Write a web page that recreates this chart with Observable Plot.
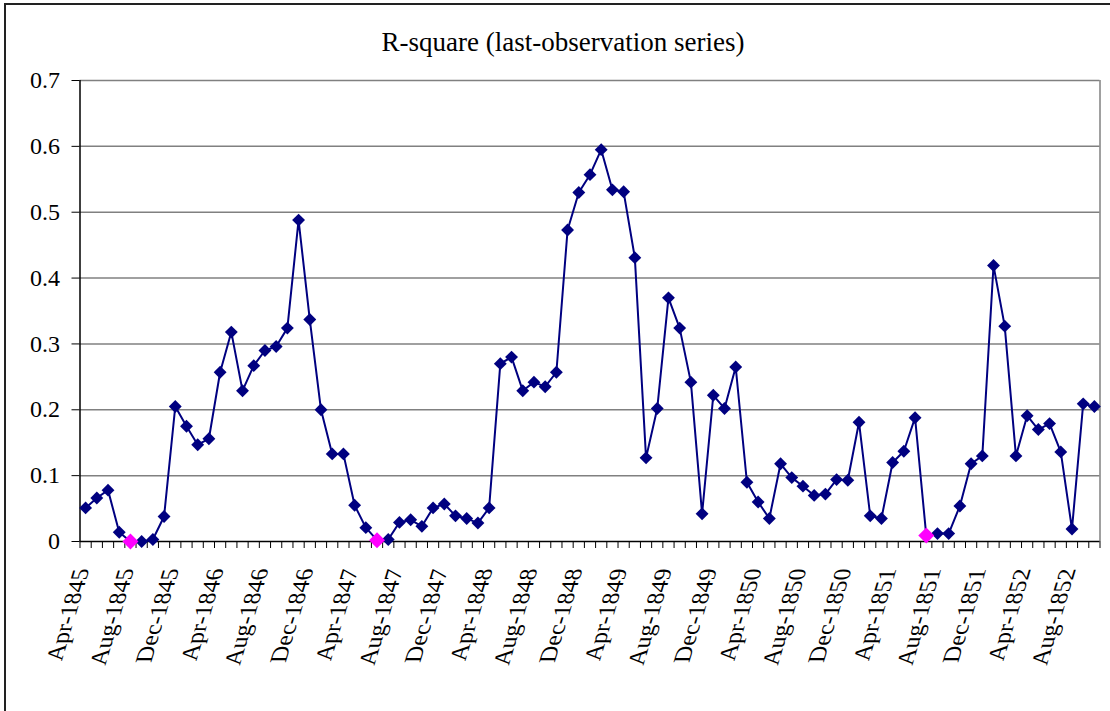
<!DOCTYPE html>
<html><head><meta charset="utf-8">
<script src="https://cdn.jsdelivr.net/npm/d3@7"></script>
<script src="https://cdn.jsdelivr.net/npm/@observablehq/plot@0.6"></script>
<style>
html,body{margin:0;padding:0;background:#fff;}
#wrap{position:relative;width:1110px;height:711px;overflow:hidden;background:#fff;}
#border{position:absolute;left:4px;top:3px;width:1130px;height:740px;border:2px solid #222;pointer-events:none;}
#wrap svg text{font-family:'Liberation Serif','Times New Roman',serif !important;}
</style></head><body><div id="wrap"><div id="border"></div></div>
<script>
const title = "R-square (last-observation series)";
const monthNames = ["Jan","Feb","Mar","Apr","May","Jun","Jul","Aug","Sep","Oct","Nov","Dec"];
const firstYear = 1845, firstMonthIndex = 3; // Apr-1845
const values = [
  0.051, 0.066, 0.078, 0.014, 0.000, 0.000, 0.003, 0.038, 0.205, 0.175,
  0.147, 0.156, 0.257, 0.318, 0.229, 0.267, 0.290, 0.296, 0.324, 0.488,
  0.337, 0.200, 0.133, 0.133, 0.055, 0.021, 0.002, 0.003, 0.029, 0.033,
  0.023, 0.051, 0.057, 0.039, 0.035, 0.028, 0.051, 0.270, 0.280, 0.229,
  0.242, 0.235, 0.257, 0.473, 0.530, 0.557, 0.595, 0.534, 0.531, 0.431,
  0.127, 0.202, 0.370, 0.324, 0.242, 0.042, 0.222, 0.202, 0.265, 0.090,
  0.060, 0.035, 0.118, 0.097, 0.084, 0.070, 0.072, 0.094, 0.093, 0.181,
  0.039, 0.035, 0.120, 0.137, 0.188, 0.009, 0.012, 0.012, 0.054, 0.118,
  0.130, 0.419, 0.327, 0.130, 0.191, 0.170, 0.179, 0.136, 0.019, 0.209,
  0.205
];
const highlightIdx = [4, 26, 75];
const yTicks = [0, 0.1, 0.2, 0.3, 0.4, 0.5, 0.6, 0.7];
const yTickLabels = ["0", "0.1", "0.2", "0.3", "0.4", "0.5", "0.6", "0.7"];
const xTickLabels = ["Apr-1845","Aug-1845","Dec-1845","Apr-1846","Aug-1846","Dec-1846","Apr-1847","Aug-1847","Dec-1847","Apr-1848","Aug-1848","Dec-1848","Apr-1849","Aug-1849","Dec-1849","Apr-1850","Aug-1850","Dec-1850","Apr-1851","Aug-1851","Dec-1851","Apr-1852","Aug-1852"];
const xLabelEvery = 4;

const monthLabel = i => {
  const m = firstMonthIndex + i;
  return monthNames[m % 12] + "-" + (firstYear + Math.floor(m / 12));
};
const data = values.map((v, i) => ({i, v, month: monthLabel(i)}));
const highlighted = data.filter(d => highlightIdx.includes(d.i));
const xLabelData = xTickLabels.map((t, j) => ({i: j * xLabelEvery, t}));
const bounds = d3.range(values.length + 1).map(k => k - 0.5);

const chart = Plot.plot({
  width: 1110, height: 711,
  marginLeft: 79.5, marginRight: 10.5, marginTop: 80, marginBottom: 170,
  style: {fontFamily: "'Liberation Serif', 'Times New Roman', serif", fontSize: "24px", background: "transparent", color: "#000", overflow: "visible"},
  x: {domain: [-0.5, values.length - 0.5], axis: null},
  y: {domain: [0, 0.7], ticks: yTicks, tickSize: 8, tickPadding: 12, tickFormat: d => yTickLabels[yTicks.indexOf(d)], label: null},
  marks: [
    Plot.ruleY(yTicks.slice(1), {stroke: "#808080", strokeWidth: 1.5}),
    Plot.ruleX([values.length - 0.5], {x: d => d, y1: 0, y2: 0.7, stroke: "#808080", strokeWidth: 1.5}),
    Plot.ruleX([-0.5], {x: d => d, y1: 0, y2: 0.7, stroke: "#000", strokeWidth: 1.5}),
    Plot.ruleY([0], {stroke: "#000", strokeWidth: 1.5}),
    Plot.ruleX(bounds, {x: d => d, y1: 0, y2: 0, insetBottom: -7, stroke: "#000", strokeWidth: 1}),
    Plot.line(data, {x: "i", y: "v", stroke: "#000080", strokeWidth: 2}),
    Plot.dot(data, {x: "i", y: "v", symbol: "diamond2", r: 5.8, fill: "#000080", stroke: "none"}),
    Plot.dot(highlighted, {x: "i", y: "v", symbol: "diamond2", r: 7.2, fill: "#ff00ff", stroke: "none"}),
    Plot.text(xLabelData, {x: "i", text: "t", frameAnchor: "bottom", textAnchor: "end", lineAnchor: "bottom", dx: 4, dy: 27, fill: "#000"}),
    Plot.text([title], {text: d => d, frameAnchor: "top", lineAnchor: "bottom", dx: -27, dy: -30, fill: "#000", fontSize: 27})
  ]
});
const svg = d3.select(chart);
svg.selectAll("[font-family]").attr("font-family", null);
svg.selectAll("text")
  .attr("font-family", "'Liberation Serif', 'Times New Roman', serif")
  .filter(function() { return xTickLabels.includes(this.textContent); })
  .attr("transform", function() {
    return (this.getAttribute("transform") || "") + " matrix(0.3,-1,1,0,0,0)";
  });
document.getElementById("wrap").prepend(chart);
</script></body></html>
